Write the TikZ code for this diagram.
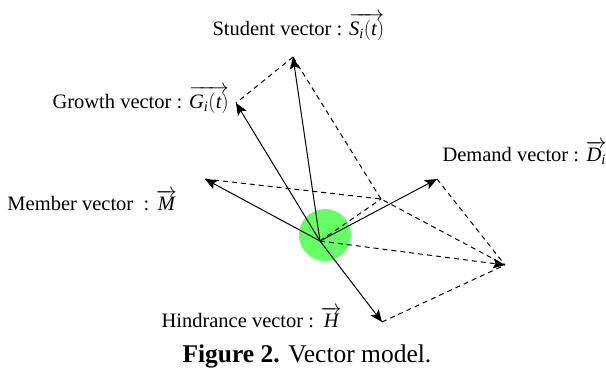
\documentclass[tikz,border=0pt]{standalone}
\usepackage{fontspec}
\setmainfont{Liberation Serif}
\usetikzlibrary{arrows.meta}
\definecolor{blob}{HTML}{66FF66}
\newcommand{\vlab}[1]{$\overrightarrow{#1}$}

\begin{document}
\begin{tikzpicture}[x=1pt,y=-1pt,>={Stealth[length=12pt,width=10pt,inset=2.5pt]},line width=1pt,
  lbl/.style={anchor=base west,inner sep=0pt,font=\fontsize{20.5}{24}\selectfont},
  part/.style={dash pattern=on 5pt off 4pt}]
  \useasboundingbox (0,0) rectangle (606,372);
  \coordinate (O) at (320,241);
  \coordinate (S) at (293,57);
  \coordinate (G) at (236,103);
  \coordinate (M) at (205,179);
  \coordinate (D) at (437,179);
  \coordinate (H) at (382,322);
  \coordinate (P) at (381,199);
  \coordinate (R) at (505,265);
  \fill[blob] (325,235) circle (26pt);
  % parallelogram sides
  \draw[part] (S)--(G);
  \draw[part] (S)--(P);
  \draw[part] (M)--(P)--(R);
  \draw[part] (O)--(P);
  \draw[part,->] (O)--(R);
  \draw[part] (D)--(R);
  \draw[part] (H)--(R);
  % vectors
  \foreach \v in {S,G,M,D,H}
    \draw[->] (O)--(\v);
  \node[lbl] (ls) at (212,35) {Student vector : \vlab{\mathit{S_i}(\mathit{t})}};
  \node[lbl] (lg) at (52,108) {Growth vector : \vlab{\mathit{G_i}(\mathit{t})}};
  \node[lbl] (ld) at (442,161) {Demand vector : \vlab{\mathit{D_i}}};
  \node[lbl] (lm) at (7,210) {Member vector~ : \vlab{\mathit{M}}};
  \node[lbl] (lh) at (161,327) {Hindrance vector : \vlab{\mathit{H}}};
  \node[lbl,font=\fontsize{25.5}{30}\selectfont] (cap) at (182,362) {\textbf{Figure 2.} Vector model.};
\end{tikzpicture}
\end{document}
